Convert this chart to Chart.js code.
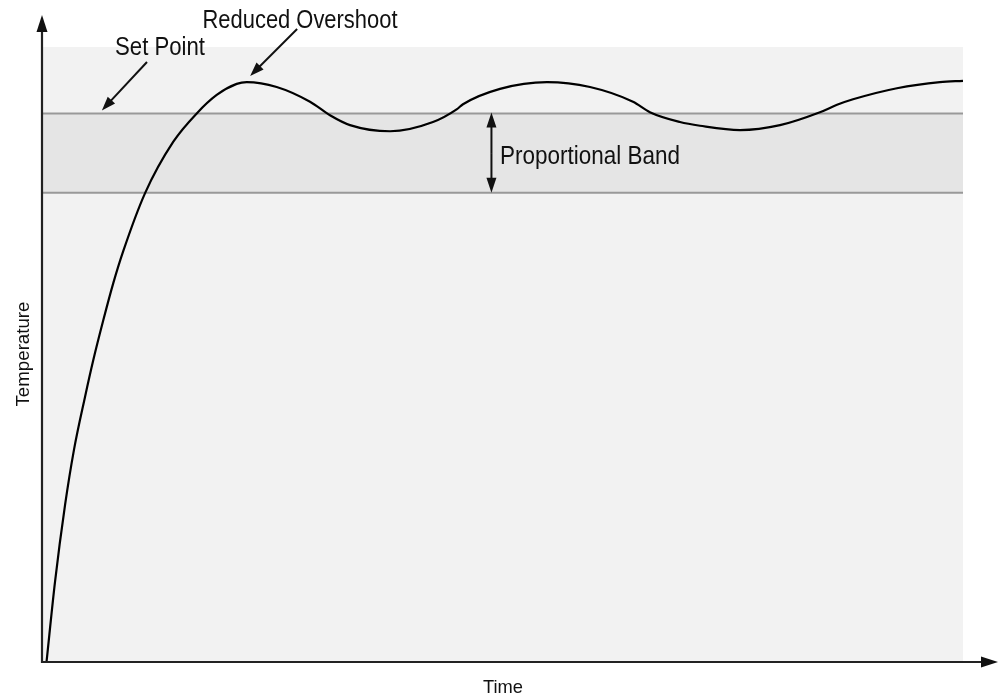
<!DOCTYPE html>
<html>
<head>
<meta charset="utf-8">
<script src="https://cdn.jsdelivr.net/npm/chart.js@4.4.0/dist/chart.umd.min.js"></script>
<style>
  body { margin: 0; background: #fff; }
  #wrap { width: 999px; height: 698px; }
</style>
</head>
<body>
<div id="wrap"><canvas id="pidChart" width="999" height="698"></canvas></div>
<script>
// response curve, time (0-100) vs temperature (0-100)
const timeValues = [0.49, 1.41, 2.50, 3.47, 4.67, 5.57, 6.66, 7.74, 8.82, 11.18, 14.26,
  16.80, 18.97, 21.14, 22.23, 25.48, 29.10, 31.27, 33.44, 37.79, 42.45, 45.06, 45.71, 49.73, 54.83,
  59.50, 64.17, 66.0, 69.27, 71.44, 75.79, 80.13, 84.47, 86.32, 88.06, 92.83, 97.5, 100];
const tempValues = [0, 13.0, 25.5, 34.5, 43.1, 49.1, 55.6, 61.6, 66.8, 76.2, 84.6,
  89.2, 92.2, 94.0, 94.3, 93.5, 91.1, 88.9, 87.3, 86.3, 87.8, 89.9, 90.7, 93.2, 94.3,
  93.5, 91.1, 89.4, 87.8, 87.2, 86.5, 87.3, 89.4, 90.6, 91.5, 93.3, 94.3, 94.5];
const setPoint = 89.2;
const bandLow = 76.3;

const curvePoints = timeValues.map((t, i) => ({ x: t, y: tempValues[i] }));

function arrowHead(ctx, x1, y1, x2, y2, len, half) {
  // filled triangle at (x2,y2) pointing from (x1,y1)
  let a = Math.atan2(y2 - y1, x2 - x1);
  ctx.beginPath();
  ctx.moveTo(x2, y2);
  ctx.lineTo(x2 - len * Math.cos(a) + half * Math.sin(a), y2 - len * Math.sin(a) - half * Math.cos(a));
  ctx.lineTo(x2 - len * Math.cos(a) - half * Math.sin(a), y2 - len * Math.sin(a) + half * Math.cos(a));
  ctx.closePath();
  ctx.fill();
}

function arrowLine(ctx, x1, y1, x2, y2, len, half) {
  let a = Math.atan2(y2 - y1, x2 - x1);
  ctx.beginPath();
  ctx.moveTo(x1, y1);
  ctx.lineTo(x2 - (len - 2) * Math.cos(a), y2 - (len - 2) * Math.sin(a));
  ctx.stroke();
  arrowHead(ctx, x1, y1, x2, y2, len, half);
}

function label(ctx, text, x, y, size, maxW, align) {
  ctx.font = size + 'px "Liberation Sans", Arial, sans-serif';
  ctx.textAlign = align;
  ctx.textBaseline = 'alphabetic';
  ctx.fillStyle = '#111';
  ctx.fillText(text, x, y, maxW);
}

const backdrop = {
  id: 'backdrop',
  beforeDatasetsDraw(chart) {
    let ctx = chart.ctx, a = chart.chartArea;
    let y = chart.scales.y;
    let yTop = y.getPixelForValue(setPoint), yLow = y.getPixelForValue(bandLow);
    ctx.save();
    ctx.fillStyle = '#f2f2f2';
    ctx.fillRect(a.left, a.top, a.right - a.left, a.bottom - a.top);
    ctx.fillStyle = '#e5e5e5';
    ctx.fillRect(a.left, yTop, a.right - a.left, yLow - yTop);
    ctx.strokeStyle = '#999';
    ctx.lineWidth = 2;
    ctx.beginPath();
    ctx.moveTo(a.left, yTop); ctx.lineTo(a.right, yTop);
    ctx.moveTo(a.left, yLow); ctx.lineTo(a.right, yLow);
    ctx.stroke();
    ctx.restore();
  },
  afterDatasetsDraw(chart) {
    let ctx = chart.ctx, a = chart.chartArea;
    let x = chart.scales.x, y = chart.scales.y;
    ctx.save();
    // axes
    ctx.strokeStyle = '#222';
    ctx.fillStyle = '#111';
    ctx.lineWidth = 2.2;
    arrowLine(ctx, a.left, a.bottom + 1, a.left, 15, 17, 5.5);
    arrowLine(ctx, a.left - 1, a.bottom, 998, a.bottom, 17, 5.5);

    // pointers
    ctx.lineWidth = 2;
    ctx.strokeStyle = '#111';
    let yTop = y.getPixelForValue(setPoint), yLow = y.getPixelForValue(bandLow);
    arrowLine(ctx, x.getPixelForValue(11.4), 62, x.getPixelForValue(6.5), yTop - 3, 14, 5);
    arrowLine(ctx, x.getPixelForValue(27.7), 29, x.getPixelForValue(22.6), y.getPixelForValue(95.3), 14, 5);
    let bx = x.getPixelForValue(48.8);
    arrowLine(ctx, bx, (yTop + yLow) / 2, bx, yTop - 1, 15, 5);
    arrowLine(ctx, bx, (yTop + yLow) / 2, bx, yLow, 15, 5);

    // texts
    label(ctx, 'Set Point', 160, 55, 25, 90, 'center');
    label(ctx, 'Reduced Overshoot', 300, 28, 25, 195, 'center');
    label(ctx, 'Proportional Band', 500, 164, 25, 180, 'left');
    label(ctx, 'Time', 503, 693, 19, 40, 'center');
    ctx.translate(29, 354);
    ctx.rotate(-Math.PI / 2);
    label(ctx, 'Temperature', 0, 0, 19, 105, 'center');
    ctx.restore();
  }
};

let chart = new Chart(document.getElementById('pidChart').getContext('2d'), {
  type: 'line',
  data: {
    datasets: [{
      data: curvePoints,
      borderColor: '#000',
      borderWidth: 2.2,
      pointRadius: 0,
      fill: false,
      cubicInterpolationMode: 'monotone',
      clip: false
    }]
  },
  options: {
    responsive: false,
    animation: false,
    layout: { padding: { left: 42, right: 36, top: 47, bottom: 36 } },
    plugins: { legend: { display: false }, tooltip: { enabled: false } },
    scales: {
      x: { type: 'linear', min: 0, max: 100, display: false },
      y: { type: 'linear', min: 0, max: 100, display: false }
    }
  },
  plugins: [backdrop]
});
</script>
</body>
</html>
